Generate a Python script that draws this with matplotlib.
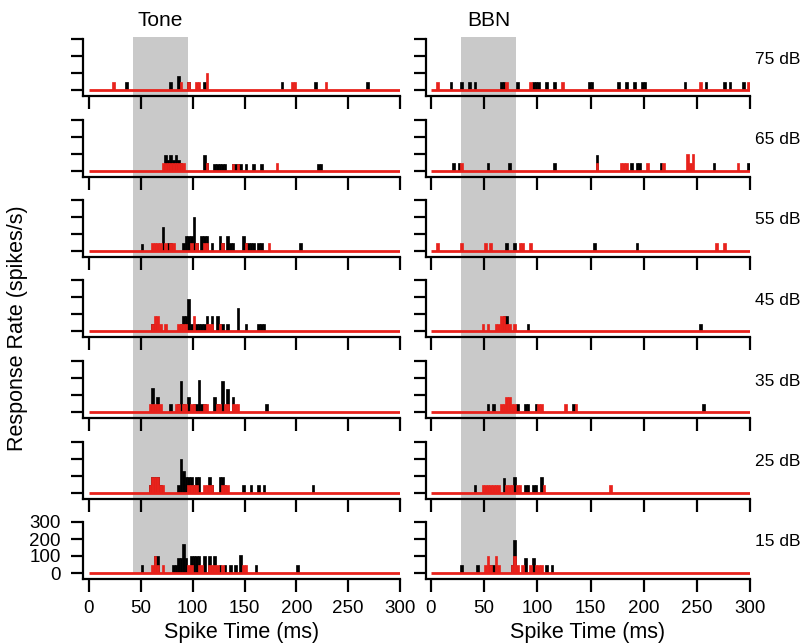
import matplotlib
matplotlib.use("Agg")
import matplotlib.pyplot as plt
from matplotlib.patches import Rectangle

plt.rcParams['font.family'] = ['Liberation Sans', 'DejaVu Sans']

# sound levels, one row each (top to bottom)
levels = [75, 65, 55, 45, 35, 25, 15]
bin_ms = 2.5

# PSTH bins: (bin start in ms, rate in spikes/s)
tone_black = {
    75: [(35, 45), (77.5, 45), (85, 80), (95, 45), (110, 45), (185, 45), (217.5, 45), (267.5, 45)],
    65: [(72.5, 90), (75, 60), (77.5, 90), (80, 60), (82.5, 90), (85, 60), (87.5, 45), (110, 90), (112.5, 45),
         (120, 40), (122.5, 40), (125, 40), (127.5, 40), (130, 40), (137.5, 40), (140, 40), (142.5, 40), (145, 40),
         (150, 40), (157.5, 40), (165, 40), (220, 40), (222.5, 40)],
    55: [(50, 40), (70, 140), (75, 45), (77.5, 45), (90, 45), (92.5, 90), (95, 90), (97.5, 90), (100, 200),
         (102.5, 45), (107.5, 90), (110, 90), (112.5, 90), (117.5, 45), (125, 90), (127.5, 45), (132.5, 90),
         (135, 45), (137.5, 45), (147.5, 90), (150, 45), (152.5, 45), (155, 45), (157.5, 45), (162.5, 45),
         (165, 45), (202.5, 45)],
    45: [(60, 45), (62.5, 45), (87.5, 45), (90, 90), (92.5, 90), (95, 190), (97.5, 45), (100, 45), (102.5, 45),
         (105, 45), (107.5, 45), (110, 45), (112.5, 90), (117.5, 90), (122.5, 90), (125, 45), (127.5, 45),
         (132.5, 45), (142.5, 140), (150, 45), (162.5, 45), (165, 45), (167.5, 45)],
    35: [(60, 140), (65, 90), (77.5, 45), (85, 45), (87.5, 185), (90, 45), (95, 90), (100, 45), (102.5, 45),
         (105, 190), (107.5, 45), (110, 45), (120, 90), (122.5, 45), (127.5, 185), (132.5, 135), (137.5, 90),
         (170, 45)],
    25: [(57.5, 45), (60, 90), (62.5, 90), (65, 90), (67.5, 45), (85, 45), (87.5, 200), (90, 125), (92.5, 90),
         (95, 90), (97.5, 90), (100, 45), (102.5, 90), (105, 90), (115, 90), (117.5, 45), (125, 90), (127.5, 90),
         (130, 45), (147.5, 45), (155, 45), (162.5, 45), (167.5, 45), (215, 45)],
    15: [(50, 45), (62.5, 100), (65, 100), (80, 45), (82.5, 45), (85, 90), (87.5, 90), (90, 170), (92.5, 90),
         (97.5, 100), (100, 100), (102.5, 100), (105, 100), (110, 100), (115, 100), (120, 100), (125, 45),
         (130, 45), (135, 45), (140, 45), (145, 105), (160, 45), (200, 45)],
}
tone_red = {
    75: [(22.5, 45), (87.5, 45), (95, 45), (102.5, 45), (105, 45), (112.5, 100), (195, 45), (197.5, 45), (227.5, 45)],
    65: [(70, 45), (72.5, 45), (75, 45), (77.5, 45), (80, 45), (82.5, 45), (85, 45), (87.5, 45), (90, 45),
         (112.5, 45), (137.5, 40), (142.5, 40), (180, 45)],
    55: [(60, 45), (62.5, 45), (65, 45), (67.5, 45), (72.5, 45), (77.5, 45), (80, 45), (97.5, 45), (102.5, 45),
         (110, 45), (112.5, 45), (127.5, 45), (150, 45), (172.5, 45)],
    45: [(60, 45), (62.5, 90), (65, 90), (67.5, 45), (72.5, 45), (85, 45), (87.5, 45), (90, 45), (92.5, 45),
         (100, 90), (112.5, 45), (115, 45), (117.5, 45), (125, 45)],
    35: [(57.5, 45), (60, 45), (62.5, 45), (65, 45), (67.5, 45), (82.5, 45), (85, 45), (90, 45), (92.5, 45),
         (97.5, 45), (100, 45), (110, 45), (112.5, 45), (122.5, 45), (125, 45), (130, 45), (132.5, 45),
         (137.5, 45), (140, 45), (142.5, 45)],
    25: [(57.5, 45), (60, 90), (62.5, 90), (65, 90), (67.5, 45), (70, 45), (95, 45), (97.5, 45), (100, 45),
         (102.5, 45), (110, 45), (112.5, 45), (115, 45), (117.5, 45), (127.5, 45), (130, 45), (132.5, 45)],
    15: [(60, 45), (62.5, 100), (65, 45), (70, 45), (95, 45), (97.5, 45), (105, 45), (107.5, 45), (115, 45),
         (117.5, 45), (120, 45), (122.5, 45), (127.5, 45), (147.5, 45), (150, 45)],
}
bbn_black = {
    75: [(17.5, 45), (27.5, 45), (35, 45), (40, 45), (65, 45), (67.5, 45), (80, 45), (95, 45), (97.5, 45),
         (100, 45), (107.5, 45), (115, 45), (147.5, 45), (150, 45), (175, 45), (182.5, 45), (190, 45),
         (197.5, 45), (200, 45), (237.5, 45), (257.5, 45), (275, 45), (280, 45), (292.5, 45)],
    65: [(20, 45), (25, 45), (52.5, 45), (72.5, 45), (115, 45), (155, 90), (187.5, 45), (192.5, 45), (195, 45),
         (215, 45), (265, 45), (297.5, 45)],
    55: [(70, 45), (77.5, 45), (152.5, 45), (192.5, 45)],
    45: [(67.5, 90), (70, 90), (90, 45), (252.5, 45)],
    35: [(52.5, 45), (57.5, 45), (80, 45), (87.5, 45), (90, 45), (97.5, 45), (132.5, 45), (255, 45)],
    25: [(40, 45), (67.5, 85), (77.5, 90), (87.5, 45), (90, 45), (95, 45), (97.5, 45), (102.5, 90)],
    15: [(27.5, 45), (42.5, 45), (55, 45), (57.5, 45), (75, 45), (77.5, 195), (87.5, 90), (95, 90),
         (107.5, 45), (112.5, 45)],
}
bbn_red = {
    75: [(5, 45), (70, 45), (92.5, 45), (122.5, 45), (252.5, 45), (297.5, 45)],
    65: [(27.5, 45), (155, 45), (177.5, 45), (180, 45), (182.5, 45), (202.5, 45), (217.5, 45), (240, 100),
         (242.5, 45), (245, 100), (287.5, 45)],
    55: [(5, 45), (27.5, 45), (50, 45), (55, 45), (82.5, 45), (85, 45), (92.5, 45), (267.5, 45), (275, 45)],
    45: [(47.5, 45), (52.5, 45), (60, 45), (62.5, 45), (65, 90), (67.5, 90), (70, 45), (72.5, 45), (77.5, 45)],
    35: [(65, 45), (67.5, 45), (70, 90), (72.5, 90), (75, 45), (77.5, 45), (100, 45), (102.5, 45),
         (125, 45), (135, 45)],
    25: [(47.5, 45), (50, 45), (52.5, 45), (55, 45), (57.5, 45), (60, 45), (62.5, 45), (70, 45), (72.5, 45),
         (75, 45), (80, 45), (82.5, 45), (105, 45), (167.5, 45)],
    15: [(50, 45), (52.5, 100), (55, 45), (60, 100), (62.5, 45), (75, 45), (77.5, 100), (80, 45), (85, 45),
         (92.5, 45), (97.5, 45), (100, 45), (102.5, 45)],
}
# stimulus windows (ms)
tone_window = (42, 95.5)
bbn_window = (28, 80)

RED = '#e8221c'
GRAY = '#c9c9c9'
W, H = 806, 644

fig = plt.figure(figsize=(W / 100, H / 100), dpi=100)


def box(left, top, right, bottom):
    return [left / W, 1 - bottom / H, (right - left) / W, (bottom - top) / H]


columns = [
    (83, 400, 89, tone_black, tone_red, tone_window, 'Tone'),
    (426, 750, 431, bbn_black, bbn_red, bbn_window, 'BBN'),
]

for ci, (left, right, x0px, black, red, window, title) in enumerate(columns):
    axes = []
    for r, lev in enumerate(levels):
        zero = 90 + 80.5 * r
        ax = fig.add_axes(box(left, zero - 51, right, zero + 6))
        ax.patch.set_alpha(0)
        xmin = -(x0px - left) * 300 / (right - x0px)
        ax.set_xlim(xmin, 300)
        ax.set_ylim(-6 * 300 / 51, 300)

        bt = [b[0] for b in black[lev]]
        bh = [b[1] for b in black[lev]]
        ax.bar(bt, bh, width=bin_ms, align='edge', color='black', edgecolor='black',
               linewidth=0.5, zorder=2)
        rt = [b[0] for b in red[lev]]
        rh = [b[1] for b in red[lev]]
        ax.bar(rt, rh, width=bin_ms, align='edge', color=RED, edgecolor=RED,
               linewidth=0.5, zorder=3)
        ax.plot([0, 300], [0, 0], color=RED, lw=2, zorder=4, solid_capstyle='butt')

        for s in ('top', 'right'):
            ax.spines[s].set_visible(False)
        for s in ('left', 'bottom'):
            ax.spines[s].set_linewidth(1.6)
        ax.set_xticks(range(0, 301, 50))
        ax.set_yticks([0, 100, 200, 300])
        ax.tick_params(direction='out', length=9, width=1.6, labelsize=13.5)
        ax.tick_params(axis='y', pad=7)
        ax.tick_params(axis='x', pad=6)
        if r < len(levels) - 1:
            ax.set_xticklabels([])
        else:
            ax.set_xlabel('Spike Time (ms)', fontsize=15.5, labelpad=4)
        if not (ci == 0 and r == len(levels) - 1):
            ax.set_yticklabels([])
        if ci == 1:
            fig.text(755 / W, 1 - (zero - 31) / H, f'{lev} dB', fontsize=12.5, ha='left', va='center')
        axes.append(ax)

    # shaded stimulus window spanning all rows
    inv = fig.transFigure.inverted()
    xa, ya = inv.transform(axes[0].transData.transform((window[0], 310)))
    xb, yb = inv.transform(axes[-1].transData.transform((window[1], 0)))
    fig.patches.append(Rectangle((xa, yb), xb - xa, ya - yb, transform=fig.transFigure,
                                 facecolor=GRAY, edgecolor='none', zorder=-1))
    xc, _ = inv.transform(axes[0].transData.transform((window[0] + (window[1] - window[0]) / 2, 0)))
    fig.text(xc, 1 - 21 / H, title, fontsize=15, ha='center', va='center')

fig.text(18 / W, 1 - 328 / H, 'Response Rate (spikes/s)', fontsize=15.5, rotation=90,
         ha='center', va='center')

fig.savefig('out.png', dpi=100)
